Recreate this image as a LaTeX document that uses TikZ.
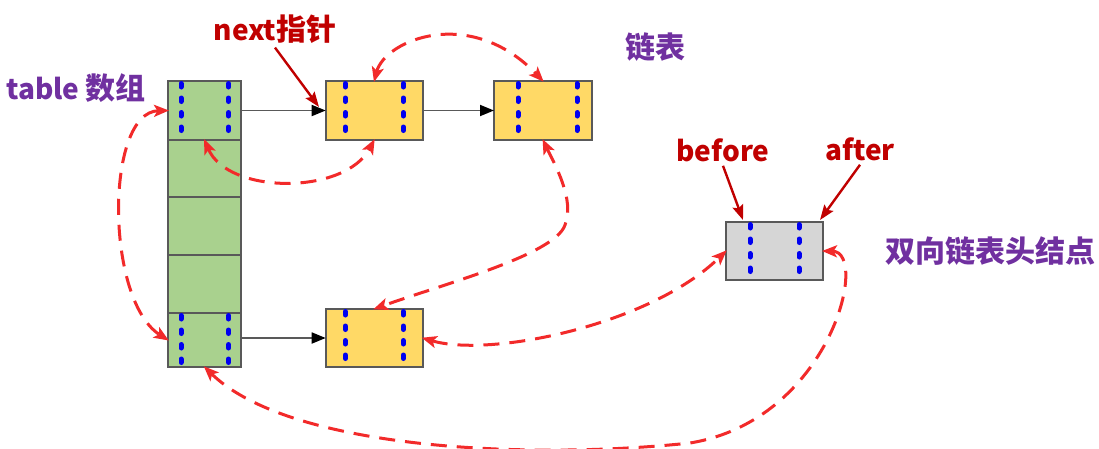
\documentclass[tikz,border=0pt]{standalone}
\usepackage{fontspec}
\setmainfont{Noto Sans CJK SC}
\usetikzlibrary{arrows.meta,calc}
\definecolor{gfill}{HTML}{A9D18E}
\definecolor{yfill}{HTML}{FFD966}
\definecolor{hfill}{HTML}{D6D6D6}
\definecolor{bord}{HTML}{595959}
\definecolor{dred}{HTML}{C00000}
\definecolor{purp}{HTML}{7030A0}
\definecolor{rline}{HTML}{F22A2A}
\definecolor{bdot}{HTML}{0000F0}
\newcommand{\cjkbig}[1]{{\fontsize{30}{32}\selectfont #1}}
\tikzset{
  cell/.style={draw=bord,line width=1.6pt,minimum width=73pt,inner sep=0pt,outer sep=0pt},
  ybox/.style={draw=bord,line width=1.6pt,fill=yfill,minimum width=97pt,minimum height=58pt,inner sep=0pt,outer sep=0pt},
  hbox/.style={ybox,fill=hfill},
  bluedots/.style={draw=bdot,line width=5pt,line cap=round,dash pattern=on 3.5pt off 11pt},
  redarc/.style={draw=rline,line width=3pt,dash pattern=on 16pt off 10pt,{Stealth[length=15pt,width=12pt,inset=3.5pt,sep=-1pt]}-{Stealth[length=15pt,width=12pt,inset=3.5pt,sep=-1pt]}},
  blk/.style={draw=bord,line width=1.8pt,-{Triangle[length=14pt,width=11pt,fill=black,color=black]}},
  lbl/.style={font=\bfseries\fontsize{28}{30}\selectfont,inner sep=0pt},
  lblarrow/.style={draw=dred,line width=2.4pt,-{Stealth[length=15pt,width=11pt,inset=2.5pt]}}
}
\begin{document}
\begin{tikzpicture}[x=1pt,y=-1pt]
\useasboundingbox (0,0) rectangle (1099,448);
% table array
\node[cell,fill=gfill,minimum height=59pt] (t1) at (204.5,110.5) {};
\node[cell,fill=gfill,minimum height=57pt] (t2) at (204.5,168.5) {};
\node[cell,fill=gfill,minimum height=58pt] (t3) at (204.5,226) {};
\node[cell,fill=gfill,minimum height=58pt] (t4) at (204.5,284) {};
\node[cell,fill=gfill,minimum height=54pt] (t5) at (204.5,340) {};
% list nodes
\node[ybox,minimum height=59pt] (a) at (374.2,110.5) {};
\node[ybox,minimum width=98pt,minimum height=59pt] (b) at (543,110.5) {};
\node[ybox] (c) at (374.2,338) {};
\node[hbox] (h) at (774.5,251) {};
% blue dotted separators
\draw[bluedots] ($(t1.north west)+(13,2.5)$) -- ($(t1.south west)+(13,0)$);
\draw[bluedots] ($(t1.north east)+(-12.5,2.5)$) -- ($(t1.south east)+(-12.5,0)$);
\draw[bluedots] ($(t5.north west)+(13,2.5)$) -- ($(t5.south west)+(13,0)$);
\draw[bluedots] ($(t5.north east)+(-12.5,2.5)$) -- ($(t5.south east)+(-12.5,0)$);
\draw[bluedots] ($(a.north west)+(19.5,2.5)$) -- ($(a.south west)+(19.5,0)$);
\draw[bluedots] ($(a.north east)+(-19.5,2.5)$) -- ($(a.south east)+(-19.5,0)$);
\draw[bluedots] ($(b.north west)+(24,2.5)$) -- ($(b.south west)+(24,0)$);
\draw[bluedots] ($(b.north east)+(-15,2.5)$) -- ($(b.south east)+(-15,0)$);
\draw[bluedots] ($(c.north west)+(19.5,2.5)$) -- ($(c.south west)+(19.5,0)$);
\draw[bluedots] ($(c.north east)+(-19.5,2.5)$) -- ($(c.south east)+(-19.5,0)$);
\draw[bluedots] ($(h.north west)+(24,2.5)$) -- ($(h.south west)+(24,0)$);
\draw[bluedots] ($(h.north east)+(-24,2.5)$) -- ($(h.south east)+(-24,0)$);
% black next arrows
\draw[blk] (t1.east) -- (a.west);
\draw[blk] (a.east) -- (b.west);
\draw[blk] (t5.east |- c.west) -- (c.west);
% labels
\node[lbl,text=dred] (nx) at (275,29) {next\cjkbig{指针}};
\node[lbl,text=purp] (tb) at (76,88) {table \cjkbig{数组}};
\node[lbl,text=purp] (lb) at (655,47) {\cjkbig{链表}};
\node[lbl,text=dred] (bf) at (723,150) {before};
\node[lbl,text=dred] (af) at (860,149) {after};
\node[lbl,text=purp] (hd) at (990,251) {\cjkbig{双向链表头结点}};
% label arrows
\coordinate (np) at (319,107);
\coordinate (bp) at (743,220);
\coordinate (ap) at (820,220);
\draw[lblarrow] ($(nx.south)+(0,4)$) -- (np);
\draw[lblarrow] ($(bf.south)+(0,4)$) -- (bp);
\draw[lblarrow] ($(af.south)+(0,4)$) -- (ap);
% red dashed double links
\draw[redarc] (a.north) .. controls (385,40) and (470,5) .. (b.north);
\draw[redarc] (t1.south) .. controls (228,195) and (345,195) .. (a.south);
\draw[redarc] (t1.west) .. controls (105,112) and (105,300) .. (t5.west);
\draw[redarc] (b.south) .. controls (555,165) and (575,200) .. (565,225) .. controls (555,255) and (440,285) .. (c.north);
\draw[redarc] (c.east) .. controls (490,358) and (650,325) .. (h.west);
\draw[redarc] (h.east) .. controls (870,252) and (830,420) .. (690,443) .. controls (530,460) and (290,450) .. (t5.south);
\end{tikzpicture}
\end{document}
